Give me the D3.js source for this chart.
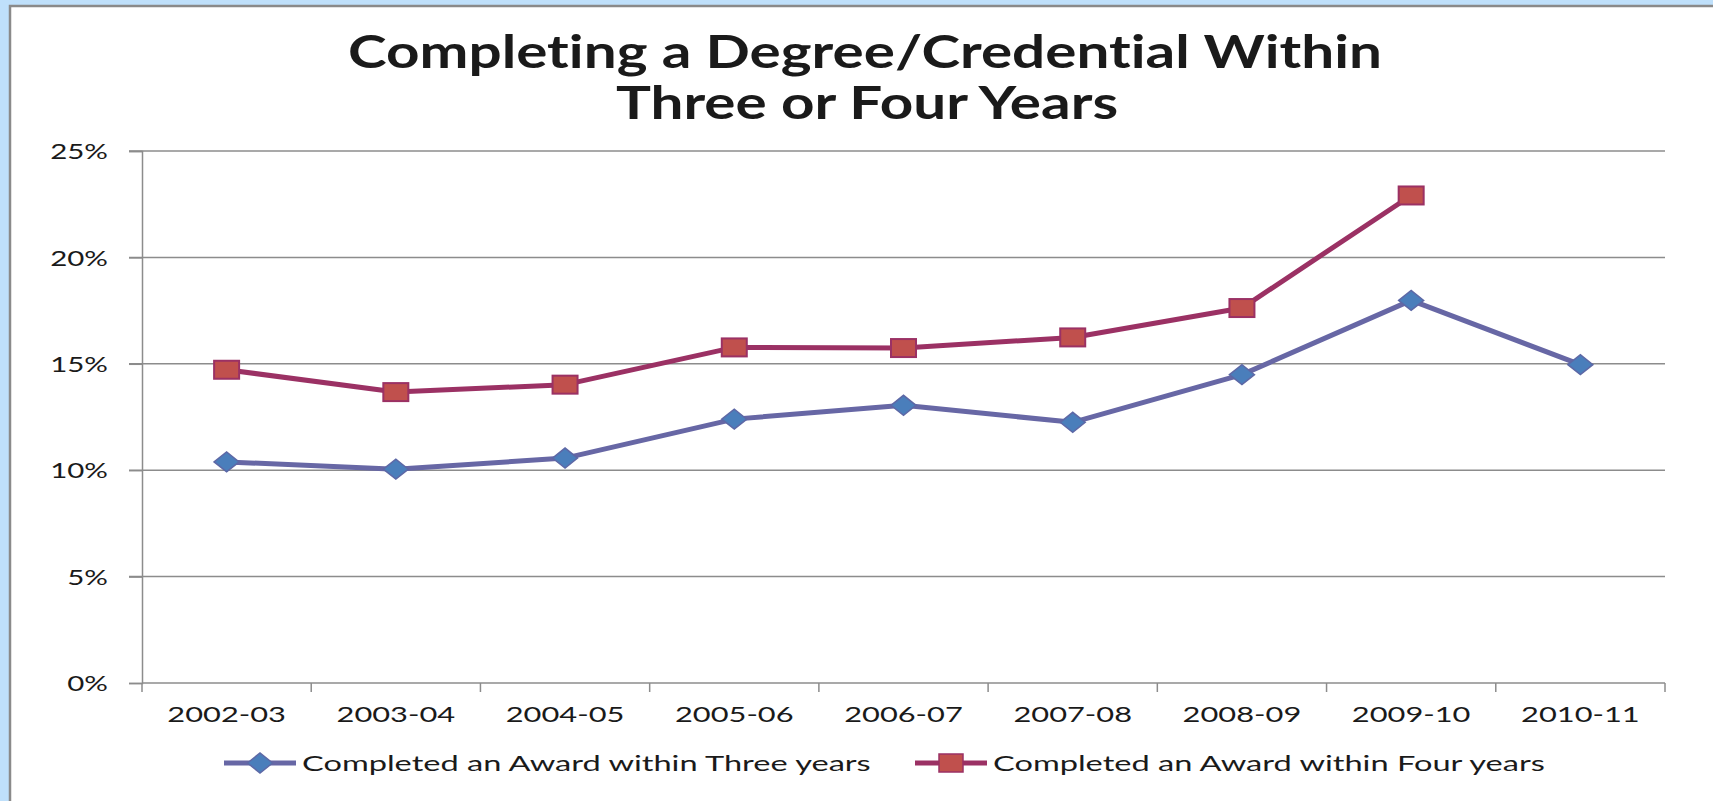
<!DOCTYPE html>
<html>
<head>
<meta charset="utf-8">
<title>Completing a Degree/Credential</title>
<script src="https://cdnjs.cloudflare.com/ajax/libs/d3/7.8.5/d3.min.js"></script>
<style>
  body { margin: 0; background: #bfe0fb; }
  svg { display: block; }
  text { font-family: Lato, "Open Sans", sans-serif; fill: #1a1a1a; font-variant-ligatures: none; }
</style>
</head>
<body>
<script>

// data
const categories = ['2002-03', '2003-04', '2004-05', '2005-06', '2006-07', '2007-08', '2008-09', '2009-10', '2010-11'];
const threeYears = [10.39, 10.05, 10.57, 12.40, 13.05, 12.25, 14.49, 17.98, 14.96];
const fourYears = [14.72, 13.67, 14.02, 15.77, 15.74, 16.24, 17.62, 22.91, null];
const yTicks = [0, 5, 10, 15, 20, 25];
const seriesNames = ['Completed an Award within Three years', 'Completed an Award within Four years'];

let width = 1713,
    height = 801,
    margin = {top: 151, right: 48, bottom: 118, left: 142},
    SX = 1.4; // the source picture is stretched sideways

let svg = d3.select('body')
            .append('svg')
            .attr('width', width)
            .attr('height', height);

// widen text like the reference
function stretch(sel, k) {
    sel.each(function () {
        let w = this.getComputedTextLength();
        d3.select(this)
          .attr('textLength', w * (k || SX))
          .attr('lengthAdjust', 'spacingAndGlyphs');
    });
}

// white panel
svg.append('rect')
   .attr('x', 10).attr('y', 6)
   .attr('width', width + 20).attr('height', height + 20)
   .attr('fill', 'white')
   .attr('stroke', '#8a8a8a')
   .attr('stroke-width', 2.5);

let x = d3.scaleBand()
          .domain(categories)
          .range([margin.left, width - margin.right]);

let y = d3.scaleLinear()
          .domain([0, 25])
          .range([height - margin.bottom, margin.top]);

// gridlines
svg.selectAll('.grid')
   .data(yTicks.filter(d => d > 0))
   .enter()
   .append('line')
   .attr('x1', margin.left - 13)
   .attr('x2', width - margin.right)
   .attr('y1', d => y(d))
   .attr('y2', d => y(d))
   .attr('stroke', '#8c8c8c')
   .attr('stroke-width', 1.5);

// y axis
let yAxis = svg.append('g')
               .attr('transform', `translate(${margin.left},0)`)
               .call(d3.axisLeft(y).tickValues(yTicks).tickSize(13).tickPadding(21).tickFormat(d => d + '%'));
yAxis.select('.domain').attr('stroke', '#8c8c8c').attr('stroke-width', 1.5);
yAxis.selectAll('.tick line').attr('stroke', '#8c8c8c').attr('stroke-width', 1.5);
yAxis.selectAll('.tick text')
     .attr('font-size', 22)
     .attr('font-family', 'Lato, sans-serif')
     .attr('fill', '#1a1a1a')
     .attr('text-anchor', 'end')
     .attr('dy', '0.35em')
     .call(stretch, 1.34);

// x axis: ticks at category boundaries
let xAxis = svg.append('g')
               .attr('transform', `translate(0,${y(0)})`);
xAxis.append('line')
     .attr('x1', margin.left).attr('x2', width - margin.right)
     .attr('stroke', '#8c8c8c').attr('stroke-width', 1.5);
xAxis.selectAll('.xtick')
     .data(d3.range(categories.length + 1))
     .enter()
     .append('line')
     .attr('x1', i => margin.left + i * x.step())
     .attr('x2', i => margin.left + i * x.step())
     .attr('y1', 0).attr('y2', 9)
     .attr('stroke', '#8c8c8c').attr('stroke-width', 1.5);
xAxis.selectAll('.xlabel')
     .data(categories)
     .enter()
     .append('text')
     .text(d => d)
     .attr('x', d => x(d) + x.bandwidth() / 2)
     .attr('y', 39)
     .attr('text-anchor', 'middle')
     .attr('font-size', 22)
     .call(stretch);

// lines and markers
let line = d3.line()
             .defined(d => d != null)
             .x((d, i) => x(categories[i]) + x.bandwidth() / 2)
             .y(d => y(d));

svg.append('path')
   .datum(threeYears)
   .attr('d', line)
   .attr('fill', 'none')
   .attr('stroke', '#6767a5')
   .attr('stroke-width', 5)
   .attr('stroke-linejoin', 'round');

svg.append('path')
   .datum(fourYears)
   .attr('d', line)
   .attr('fill', 'none')
   .attr('stroke', '#9b3164')
   .attr('stroke-width', 5)
   .attr('stroke-linejoin', 'round');

function diamond(cx, cy) {
    return `M${cx - 12.5},${cy}L${cx},${cy - 10}L${cx + 12.5},${cy}L${cx},${cy + 10}Z`;
}

svg.selectAll('.dmark')
   .data(threeYears)
   .enter()
   .append('path')
   .attr('d', (d, i) => diamond(x(categories[i]) + x.bandwidth() / 2, y(d)))
   .attr('fill', '#4a7ebb')
   .attr('stroke', '#5d68a6')
   .attr('stroke-width', 1.5);

svg.selectAll('.smark')
   .data(fourYears.filter(d => d != null))
   .enter()
   .append('rect')
   .attr('x', (d, i) => x(categories[i]) + x.bandwidth() / 2 - 12.5)
   .attr('y', d => y(d) - 9)
   .attr('width', 25)
   .attr('height', 18)
   .attr('fill', '#c0504d')
   .attr('stroke', '#9b3164')
   .attr('stroke-width', 2);

// title
let title = svg.append('text')
               .attr('text-anchor', 'middle')
               .attr('font-weight', 'bold')
               .attr('font-size', 46)
               .attr('fill', '#000');
title.append('tspan').attr('x', 865).attr('y', 68).text('Completing a Degree/Credential Within');
title.append('tspan').attr('x', 867).attr('y', 119).text('Three or Four Years');
title.selectAll('tspan').call(stretch, 1.27);

// legend
let legend = [
    {name: seriesNames[0], x0: 224, stroke: '#6767a5', fill: '#4a7ebb', mstroke: '#5d68a6', shape: 'diamond'},
    {name: seriesNames[1], x0: 915, stroke: '#9b3164', fill: '#c0504d', mstroke: '#9b3164', shape: 'square'}
];
let ly = 763;
let lg = svg.selectAll('.legend')
            .data(legend)
            .enter()
            .append('g');
lg.append('line')
  .attr('x1', d => d.x0).attr('x2', d => d.x0 + 72)
  .attr('y1', ly).attr('y2', ly)
  .attr('stroke', d => d.stroke)
  .attr('stroke-width', 5);
lg.append('path')
  .attr('d', d => d.shape == 'diamond'
        ? diamond(d.x0 + 36, ly)
        : `M${d.x0 + 24},${ly - 9}h24v18h-24Z`)
  .attr('fill', d => d.fill)
  .attr('stroke', d => d.mstroke)
  .attr('stroke-width', 1.5);
lg.append('text')
  .text(d => d.name)
  .attr('x', d => d.x0 + 78)
  .attr('y', ly)
  .attr('dy', '0.35em')
  .attr('font-size', 22)
  .call(stretch, 1.48);

</script>
</body>
</html>
